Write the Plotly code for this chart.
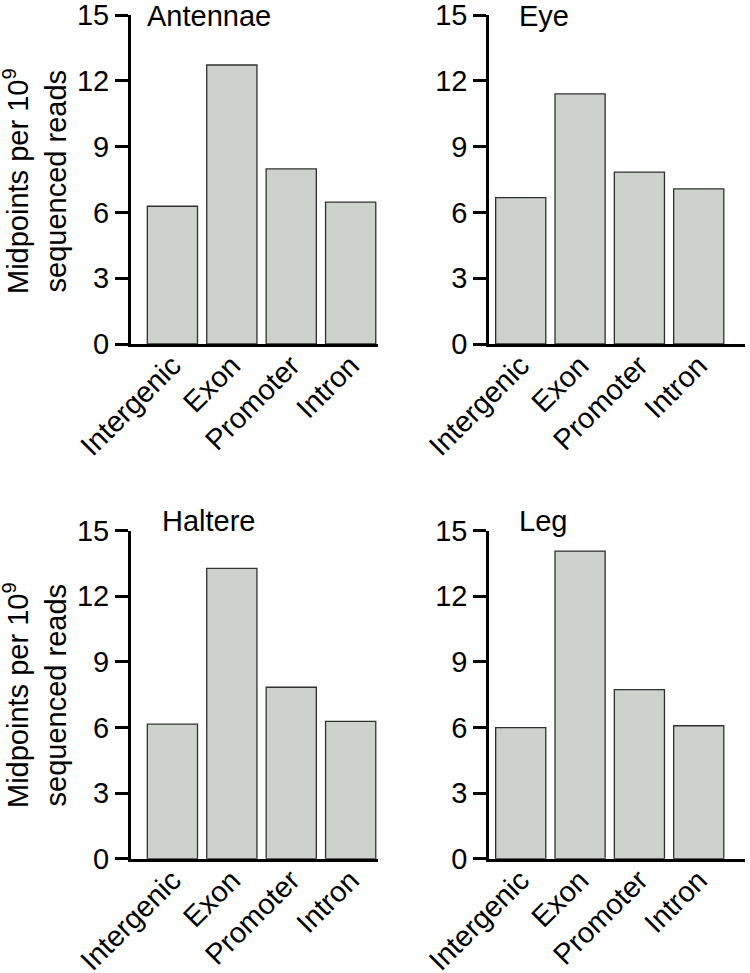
import plotly.graph_objects as go

categories = ["Intergenic", "Exon", "Promoter", "Intron"]
panel_titles = ["Antennae", "Eye", "Haltere", "Leg"]
antennae = [6.28, 12.72, 7.98, 6.47]
eye = [6.67, 11.40, 7.84, 7.07]
haltere = [6.15, 13.28, 7.84, 6.28]
leg = [5.99, 14.07, 7.73, 6.08]
y_ticks = [0, 3, 6, 9, 12, 15]
y_title = "Midpoints per 10<sup>9</sup><br>sequenced reads"

W, H = 750, 973
FONT = "Liberation Sans, Arial, Helvetica, sans-serif"
FS = 29
BAR_FILL = "#cdd2cc"
BAR_LINE = "#303030"

series = [antennae, eye, haltere, leg]

fig = go.Figure()
for i, vals in enumerate(series):
    n = "" if i == 0 else str(i + 1)
    fig.add_trace(go.Bar(
        x=categories, y=vals,
        xaxis="x" + n, yaxis="y" + n,
        marker=dict(color=BAR_FILL, line=dict(color=BAR_LINE, width=1.3)),
        showlegend=False,
    ))

# pixel geometry
left_x = [131 / W, 378 / W]
right_x = [489.3 / W, 745 / W]
top_y = [(H - 344) / H, (H - 15) / H]
bot_y = [(H - 858.7) / H, (H - 530.7) / H]
left_range = [-0.697, 3.46]
right_range = [-0.53, 3.78]

panels = [
    (left_x, top_y, left_range),
    (right_x, top_y, right_range),
    (left_x, bot_y, left_range),
    (right_x, bot_y, right_range),
]

layout = dict(
    width=W, height=H,
    margin=dict(l=0, r=0, t=0, b=0),
    paper_bgcolor="white", plot_bgcolor="white",
    font=dict(family=FONT, size=FS, color="black"),
    bargap=0.155,
    showlegend=False,
)
for i, (xd, yd, xr) in enumerate(panels):
    n = "" if i == 0 else str(i + 1)
    layout["xaxis" + n] = dict(
        domain=xd, range=xr, type="category", anchor="y" + n,
        showline=True, linecolor="black", linewidth=3,
        ticks="", tickangle=-45, showgrid=False, zeroline=False,
        tickfont=dict(family=FONT, size=FS, color="black"),
        ticklabelstandoff=-10, ticklabeloverflow="allow",
        automargin=False, fixedrange=True,
    )
    layout["yaxis" + n] = dict(
        domain=yd, range=[0, 15], anchor="x" + n,
        tickvals=y_ticks, ticktext=[str(v) for v in y_ticks],
        showline=True, linecolor="black", linewidth=3,
        ticks="outside", ticklen=13, tickwidth=3, tickcolor="black",
        showgrid=False, zeroline=False,
        tickfont=dict(family=FONT, size=FS, color="black"),
        ticklabeloverflow="allow",
        automargin=False, fixedrange=True,
    )
fig.update_layout(**layout)

annotations = []
title_pos = [(145, 16), (516.7, 16), (160, 521), (516.7, 521)]
for t, (px, py) in zip(panel_titles, title_pos):
    annotations.append(dict(
        text=t, x=px / W, y=1 - py / H, xref="paper", yref="paper",
        xanchor="left", yanchor="middle", showarrow=False,
        font=dict(family=FONT, size=FS, color="black"),
    ))
for cy in [181, 695]:
    annotations.append(dict(
        text=y_title, x=35 / W, y=1 - cy / H, xref="paper", yref="paper",
        xanchor="center", yanchor="middle", showarrow=False, textangle=-90,
        font=dict(family=FONT, size=FS, color="black"),
    ))
fig.update_layout(annotations=annotations)

fig.write_html("out.html",
               config={"displayModeBar": False},
               post_script="document.body.style.margin='0';document.body.style.padding='0';")
